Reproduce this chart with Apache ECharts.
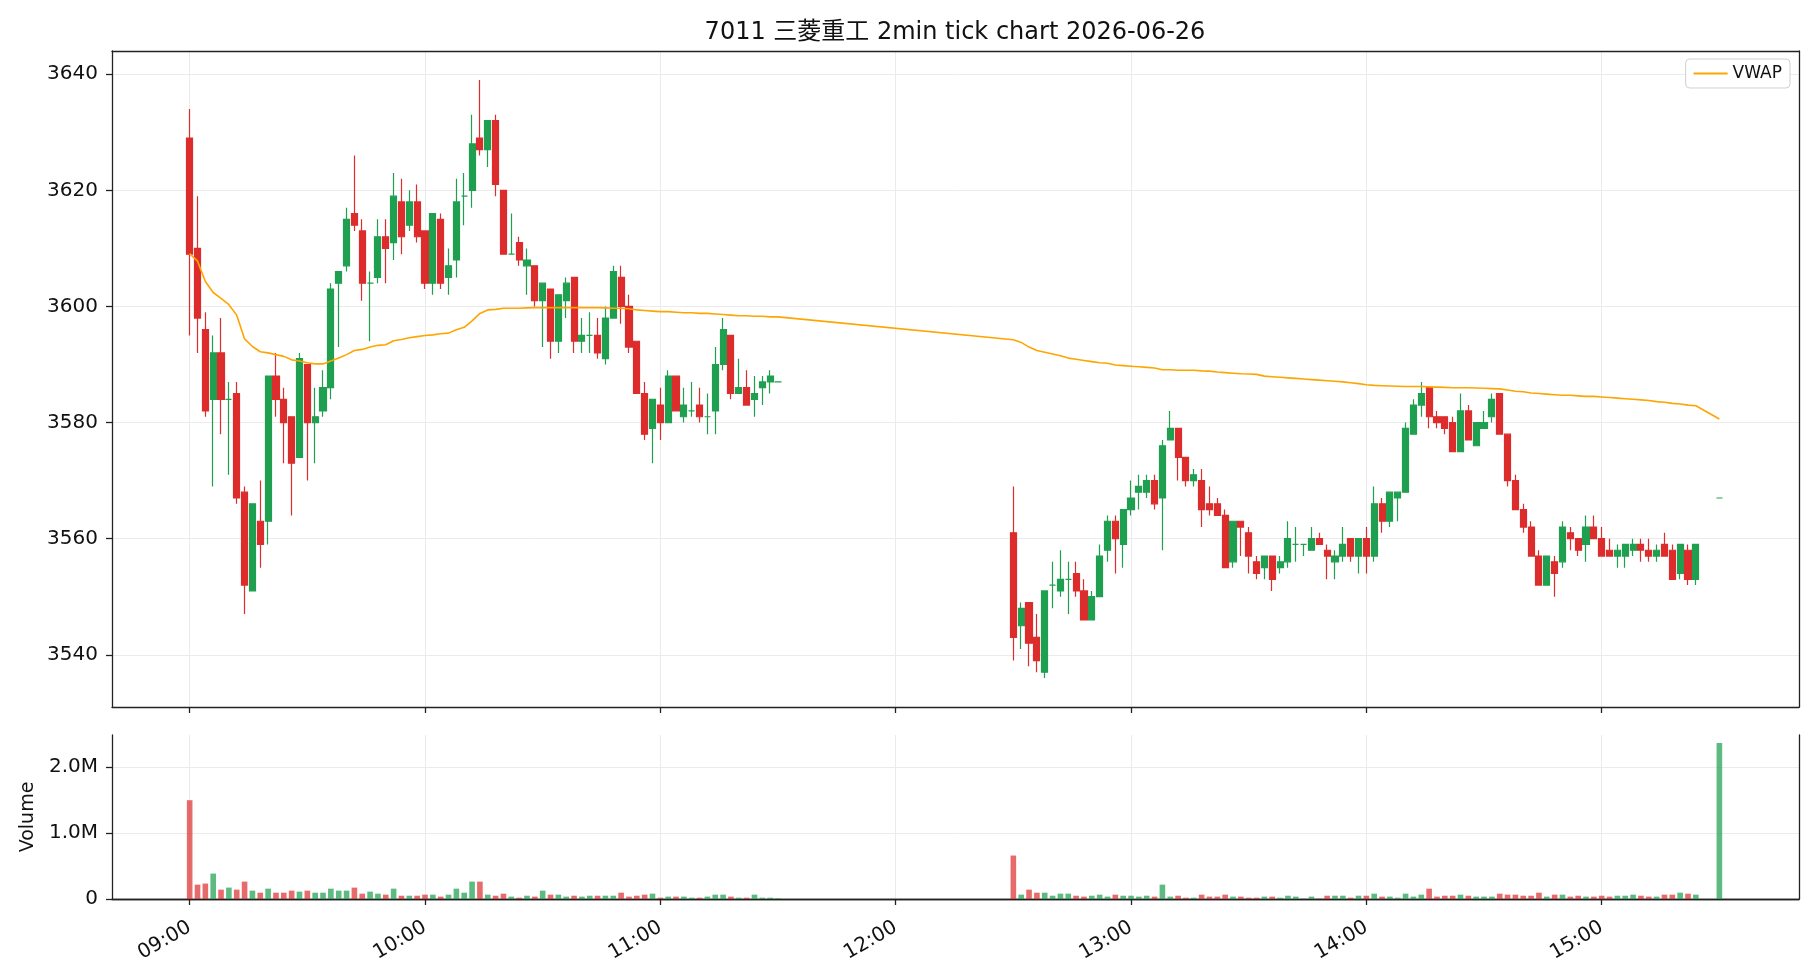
<!DOCTYPE html>
<html>
<head>
<meta charset="utf-8">
<script src="https://cdn.jsdelivr.net/npm/echarts@6/dist/echarts.min.js"></script>
<style>
  html, body { margin: 0; padding: 0; background: #fff; }
  #main { width: 1820px; height: 980px; }
</style>
</head>
<body>
<div id="main"></div>
<script>
// 場の区切り（2分足）: 前場, 後場, 引け
const sessions = [['09:00', '11:30'], ['12:30', '15:24'], ['15:30', '15:30']];

const openPx = [
  3629, 3610, 3596, 3584, 3592, 3584, 3585, 3568, 3551, 3563,
  3563, 3588, 3584, 3581, 3574, 3590, 3580, 3582, 3586, 3604,
  3607, 3616, 3613, 3604, 3605, 3612, 3611, 3618, 3614, 3618,
  3613, 3604, 3615, 3605, 3608, 3619, 3620, 3629, 3627, 3632,
  3620, 3609, 3611, 3607, 3607, 3601, 3603, 3594, 3601, 3605,
  3594, 3595, 3595, 3591, 3598, 3605, 3600, 3594, 3585, 3579,
  3583, 3580, 3588, 3581, 3582, 3583, 3581, 3582, 3590, 3595,
  3585, 3586, 3584, 3586, 3587, 3587,
  3561, 3545, 3549, 3543, 3537, 3552, 3551, 3553, 3554, 3551,
  3546, 3550, 3558, 3563, 3559, 3565, 3568, 3568, 3570, 3567,
  3577, 3579, 3574, 3570, 3570, 3566, 3566, 3564, 3556, 3563,
  3561, 3556, 3555, 3557, 3555, 3556, 3559, 3559, 3558, 3560,
  3558, 3556, 3557, 3560, 3557, 3560, 3557, 3566, 3563, 3567,
  3568, 3578, 3583, 3586, 3581, 3581, 3580, 3575, 3582, 3576,
  3579, 3581, 3585, 3578, 3570, 3565, 3562, 3557, 3552, 3556,
  3556, 3561, 3560, 3559, 3562, 3560, 3558, 3557, 3557, 3558,
  3559, 3558, 3557, 3559, 3558, 3554, 3558, 3553,
  3567
];
const highPx = [
  3634, 3619, 3599, 3595, 3598, 3587, 3587, 3569, 3566, 3570,
  3588, 3592, 3586, 3581, 3592, 3590, 3586, 3589, 3604, 3606,
  3617, 3626, 3615, 3606, 3615, 3615, 3623, 3622, 3620, 3621,
  3613, 3616, 3616, 3610, 3622, 3623, 3633, 3639, 3632, 3633,
  3620, 3616, 3612, 3610, 3607, 3604, 3603, 3602, 3605, 3605,
  3598, 3599, 3598, 3600, 3607, 3607, 3602, 3594, 3587, 3584,
  3586, 3589, 3588, 3586, 3587, 3586, 3585, 3593, 3598, 3595,
  3591, 3589, 3588, 3588, 3589, 3587,
  3569, 3549, 3549, 3547, 3551, 3556, 3558, 3556, 3556, 3553,
  3551, 3559, 3564, 3564, 3565, 3570, 3571, 3571, 3571, 3577,
  3582, 3579, 3574, 3572, 3572, 3569, 3567, 3565, 3563, 3563,
  3562, 3557, 3557, 3557, 3557, 3563, 3562, 3559, 3562, 3561,
  3559, 3558, 3562, 3560, 3560, 3562, 3569, 3567, 3568, 3568,
  3580, 3584, 3587, 3586, 3582, 3581, 3581, 3585, 3583, 3580,
  3582, 3585, 3585, 3578, 3571, 3566, 3563, 3558, 3557, 3557,
  3563, 3562, 3560, 3564, 3564, 3562, 3560, 3559, 3559, 3560,
  3560, 3560, 3559, 3561, 3559, 3559, 3559, 3559,
  3567
];
const lowPx = [
  3595, 3592, 3581, 3569, 3578, 3571, 3566, 3547, 3551, 3555,
  3559, 3581, 3573, 3564, 3574, 3570, 3573, 3581, 3584, 3593,
  3606, 3613, 3601, 3594, 3604, 3604, 3608, 3609, 3613, 3611,
  3603, 3602, 3603, 3602, 3605, 3614, 3617, 3626, 3624, 3619,
  3609, 3609, 3607, 3602, 3600, 3593, 3591, 3592, 3598, 3592,
  3592, 3592, 3591, 3590, 3598, 3597, 3592, 3585, 3577, 3573,
  3577, 3580, 3582, 3580, 3581, 3580, 3578, 3578, 3589, 3584,
  3585, 3583, 3581, 3583, 3585, 3587,
  3539, 3541, 3538, 3537, 3536, 3548, 3550, 3547, 3550, 3546,
  3546, 3550, 3556, 3554, 3555, 3564, 3565, 3567, 3565, 3558,
  3577, 3570, 3569, 3569, 3562, 3564, 3564, 3555, 3555, 3557,
  3554, 3553, 3553, 3551, 3554, 3555, 3556, 3557, 3558, 3559,
  3553, 3553, 3556, 3556, 3554, 3554, 3556, 3561, 3562, 3563,
  3568, 3578, 3581, 3579, 3579, 3578, 3575, 3575, 3577, 3576,
  3579, 3580, 3578, 3569, 3565, 3561, 3557, 3552, 3552, 3550,
  3555, 3558, 3557, 3556, 3560, 3557, 3557, 3555, 3555, 3557,
  3556, 3556, 3556, 3557, 3553, 3553, 3552, 3552,
  3567
];
const closePx = [
  3609, 3598, 3582, 3592, 3584, 3584, 3567, 3552, 3566, 3559,
  3588, 3584, 3580, 3573, 3591, 3580, 3581, 3586, 3603, 3606,
  3615, 3614, 3604, 3604, 3612, 3610, 3619, 3612, 3618, 3612,
  3604, 3616, 3604, 3607, 3618, 3619, 3628, 3627, 3632, 3621,
  3609, 3609, 3608, 3608, 3601, 3604, 3594, 3602, 3604, 3594,
  3595, 3595, 3592, 3598, 3606, 3600, 3593, 3585, 3578, 3584,
  3580, 3588, 3582, 3583, 3582, 3581, 3581, 3590, 3596, 3585,
  3586, 3583, 3585, 3587, 3588, 3587,
  3543, 3548, 3542, 3539, 3551, 3552, 3553, 3553, 3551, 3546,
  3550, 3557, 3563, 3560, 3565, 3567, 3569, 3570, 3566, 3576,
  3579, 3574, 3570, 3571, 3565, 3565, 3564, 3555, 3563, 3562,
  3557, 3554, 3557, 3553, 3556, 3560, 3559, 3559, 3560, 3559,
  3557, 3557, 3559, 3557, 3560, 3557, 3566, 3563, 3568, 3568,
  3579, 3583, 3585, 3581, 3580, 3579, 3575, 3582, 3577, 3580,
  3580, 3584, 3578, 3570, 3565, 3562, 3557, 3552, 3557, 3554,
  3562, 3560, 3558, 3562, 3560, 3557, 3557, 3558, 3559, 3559,
  3558, 3557, 3558, 3557, 3553, 3559, 3553, 3559,
  3567
];
const volume = [
  1500000, 218000, 234000, 386000, 142000, 173000, 142000, 264000, 127000, 96000,
  157000, 96000, 96000, 127000, 112000, 127000, 96000, 96000, 157000, 127000,
  127000, 173000, 81000, 112000, 81000, 66000, 157000, 50000, 50000, 50000,
  66000, 66000, 36000, 66000, 157000, 96000, 264000, 264000, 66000, 50000,
  81000, 36000, 20000, 50000, 36000, 127000, 66000, 66000, 36000, 50000,
  36000, 50000, 50000, 50000, 50000, 96000, 36000, 50000, 66000, 81000,
  20000, 36000, 36000, 36000, 20000, 20000, 36000, 66000, 66000, 36000,
  20000, 20000, 66000, 20000, 20000, 10000,
  660000, 66000, 142000, 96000, 96000, 50000, 81000, 81000, 50000, 36000,
  50000, 66000, 36000, 66000, 50000, 50000, 36000, 50000, 36000, 218000,
  36000, 50000, 20000, 20000, 66000, 36000, 36000, 66000, 36000, 36000,
  20000, 20000, 36000, 36000, 20000, 50000, 36000, 5000, 36000, 5000,
  50000, 50000, 50000, 20000, 50000, 50000, 81000, 36000, 36000, 20000,
  81000, 36000, 66000, 157000, 36000, 50000, 50000, 66000, 50000, 36000,
  36000, 36000, 81000, 66000, 66000, 50000, 50000, 96000, 36000, 66000,
  66000, 36000, 50000, 36000, 36000, 50000, 36000, 50000, 50000, 66000,
  50000, 36000, 36000, 66000, 66000, 96000, 81000, 66000,
  2370000
];
const vwap = [
  3609.1, 3607.8, 3604.3, 3602.4, 3601.4, 3600.3, 3598.5, 3594.4, 3593.1, 3592.2,
  3592.0, 3591.7, 3591.4, 3590.8, 3590.6, 3590.3, 3590.1, 3590.1, 3590.6, 3591.1,
  3591.7, 3592.4, 3592.6, 3593.0, 3593.3, 3593.4, 3594.1, 3594.3, 3594.6, 3594.8,
  3595.0, 3595.1, 3595.3, 3595.4, 3596.0, 3596.4, 3597.5, 3598.8, 3599.4, 3599.5,
  3599.7, 3599.7, 3599.7, 3599.75, 3599.8, 3599.8, 3599.8, 3599.8, 3599.8, 3599.8,
  3599.8, 3599.8, 3599.8, 3599.75, 3599.7, 3599.7, 3599.6, 3599.4, 3599.3, 3599.2,
  3599.1, 3599.1, 3599.0, 3598.9, 3598.9, 3598.8, 3598.8, 3598.7, 3598.6, 3598.5,
  3598.4, 3598.4, 3598.3, 3598.3, 3598.2, 3598.2,
  3594.25, 3593.8, 3593.0, 3592.4, 3592.1, 3591.8, 3591.5, 3591.1, 3590.9, 3590.7,
  3590.5, 3590.3, 3590.2, 3589.9, 3589.8, 3589.7, 3589.6, 3589.5, 3589.4, 3589.1,
  3589.1, 3589.0, 3589.0, 3589.0, 3588.9, 3588.85, 3588.7, 3588.6, 3588.5, 3588.4,
  3588.35, 3588.3, 3588.0, 3587.9, 3587.8, 3587.7, 3587.6, 3587.5, 3587.4, 3587.3,
  3587.2, 3587.1, 3587.0, 3586.85, 3586.7, 3586.5, 3586.4, 3586.35, 3586.3, 3586.25,
  3586.2, 3586.2, 3586.2, 3586.15, 3586.1, 3586.05, 3586.0, 3586.0, 3586.0, 3585.95,
  3585.9, 3585.85, 3585.8, 3585.6, 3585.4, 3585.3, 3585.1, 3585.0, 3584.9, 3584.8,
  3584.7, 3584.7, 3584.6, 3584.5, 3584.5, 3584.4, 3584.3, 3584.2, 3584.1, 3584.0,
  3583.9, 3583.8, 3583.6, 3583.5, 3583.3, 3583.2, 3583.0, 3582.9,
  3580.6
];
const hourTicks = ['09:00', '10:00', '11:00', '12:00', '13:00', '14:00', '15:00'];
const priceTicks = [3540, 3560, 3580, 3600, 3620, 3640];
const volumeTicks = [0, 1000000, 2000000];
const volumeLabels = ['0', '1.0M', '2.0M'];

const UP = '#1fa050';
const DOWN = '#dd2c2c';
const UP_VOL = 'rgba(31,160,80,0.72)';
const DOWN_VOL = 'rgba(221,44,44,0.7)';

function toMin(s) {
  const p = s.split(':');
  return (+p[0]) * 60 + (+p[1]);
}
function fmtMin(v) {
  const h = Math.floor(v / 60), m = Math.round(v % 60);
  return String(h).padStart(2, '0') + ':' + String(m).padStart(2, '0');
}

// 足の時刻（分）
const times = [];
sessions.forEach(s => {
  for (let t = toMin(s[0]); t <= toMin(s[1]); t += 2) times.push(t);
});
const hourVals = hourTicks.map(toMin);

const candleData = times.map((t, i) => [t, openPx[i], closePx[i], lowPx[i], highPx[i]]);
const volData = times.map((t, i) => ({
  value: [t, volume[i]],
  itemStyle: { color: closePx[i] >= openPx[i] ? UP_VOL : DOWN_VOL }
}));
const vwapData = times.map((t, i) => [t, vwap[i]]);

const FONT = 'DejaVu Sans, Noto Sans CJK JP, sans-serif';
const xMin = toMin('08:40') + 0.2;
const xMax = toMin('15:50') + 0.3;
const priceMin = 3531, priceMax = 3644;
const volMax = 2490000;

const chart = echarts.init(document.getElementById('main'), null, { renderer: 'canvas' });

const frameLine = { show: true, lineStyle: { color: '#222', width: 1.3 } };
const gridLine = { show: true, lineStyle: { color: '#ebebeb', width: 1 } };
function ticks(vals) {
  return { show: true, length: 6, customValues: vals, lineStyle: { color: '#222', width: 1.3 } };
}

// 枠線だけの軸（上端・右端）
function frameX(gridIndex) {
  return {
    type: 'value', gridIndex: gridIndex, position: 'top', min: xMin, max: xMax,
    axisLine: frameLine, axisTick: { show: false }, axisLabel: { show: false }, splitLine: { show: false }
  };
}
function frameY(gridIndex, min, max) {
  return {
    type: 'value', gridIndex: gridIndex, position: 'right', min: min, max: max,
    axisLine: frameLine, axisTick: { show: false }, axisLabel: { show: false }, splitLine: { show: false }
  };
}

chart.setOption({
  animation: false,
  backgroundColor: '#fff',
  textStyle: { fontFamily: FONT },
  title: {
    text: '7011 三菱重工 2min tick chart 2026-06-26',
    left: 950,
    textAlign: 'center',
    top: 16,
    textStyle: { fontFamily: FONT, fontSize: 24, fontWeight: 'normal', color: '#111' }
  },
  legend: {
    data: [{ name: 'VWAP', icon: 'rect' }],
    right: 30,
    top: 59,
    orient: 'vertical',
    backgroundColor: '#fff',
    borderColor: '#d0d0d0',
    borderWidth: 1,
    borderRadius: 4,
    padding: [6, 8, 6, 8],
    itemWidth: 34,
    itemHeight: 2,
    itemGap: 4,
    textStyle: { fontFamily: FONT, fontSize: 17, color: '#111' }
  },
  grid: [
    { left: 112, right: 21, top: 51, height: 656 },
    { left: 112, right: 21, top: 735, height: 164 }
  ],
  xAxis: [
    {
      type: 'value', gridIndex: 0, min: xMin, max: xMax,
      minInterval: 60, maxInterval: 60,
      axisLine: frameLine,
      axisTick: ticks(hourVals),
      axisLabel: { show: false },
      splitLine: gridLine
    },
    {
      type: 'value', gridIndex: 1, min: xMin, max: xMax,
      minInterval: 60, maxInterval: 60,
      axisLine: frameLine,
      axisTick: ticks(hourVals),
      axisLabel: {
        customValues: hourVals,
        rotate: 30, fontSize: 20, color: '#111', margin: 27,
        formatter: fmtMin
      },
      splitLine: gridLine
    },
    frameX(0),
    frameX(1)
  ],
  yAxis: [
    {
      type: 'value', gridIndex: 0, min: priceMin, max: priceMax,
      minInterval: 20, maxInterval: 20,
      axisLine: frameLine,
      axisTick: ticks(priceTicks),
      axisLabel: {
        customValues: priceTicks,
        fontSize: 20, color: '#111', margin: 14,
        formatter: v => String(v)
      },
      splitLine: gridLine
    },
    {
      type: 'value', gridIndex: 1, min: 0, max: volMax,
      minInterval: 1000000, maxInterval: 1000000,
      name: 'Volume', nameLocation: 'middle', nameGap: 68, nameRotate: 90,
      nameTextStyle: { fontFamily: FONT, fontSize: 19, color: '#111' },
      axisLine: frameLine,
      axisTick: ticks(volumeTicks),
      axisLabel: {
        customValues: volumeTicks,
        fontSize: 20, color: '#111', margin: 14,
        formatter: v => volumeLabels[volumeTicks.indexOf(v)] || ''
      },
      splitLine: gridLine
    },
    frameY(0, priceMin, priceMax),
    frameY(1, 0, volMax)
  ],
  series: [
    {
      type: 'candlestick',
      name: 'price',
      xAxisIndex: 0, yAxisIndex: 0,
      encode: { x: 0, y: [1, 2, 3, 4] },
      barWidth: 6.6,
      itemStyle: {
        color: UP, color0: DOWN,
        borderColor: UP, borderColor0: DOWN, borderColorDoji: UP,
        borderWidth: 1.2
      },
      data: candleData
    },
    {
      type: 'line',
      name: 'VWAP',
      xAxisIndex: 0, yAxisIndex: 0,
      symbol: 'none',
      z: 5,
      lineStyle: { color: '#ffa500', width: 1.6 },
      itemStyle: { color: '#ffa500' },
      data: vwapData
    },
    {
      type: 'bar',
      name: 'volume',
      xAxisIndex: 1, yAxisIndex: 1,
      barWidth: 5.6,
      data: volData
    }
  ]
});
</script>
</body>
</html>
